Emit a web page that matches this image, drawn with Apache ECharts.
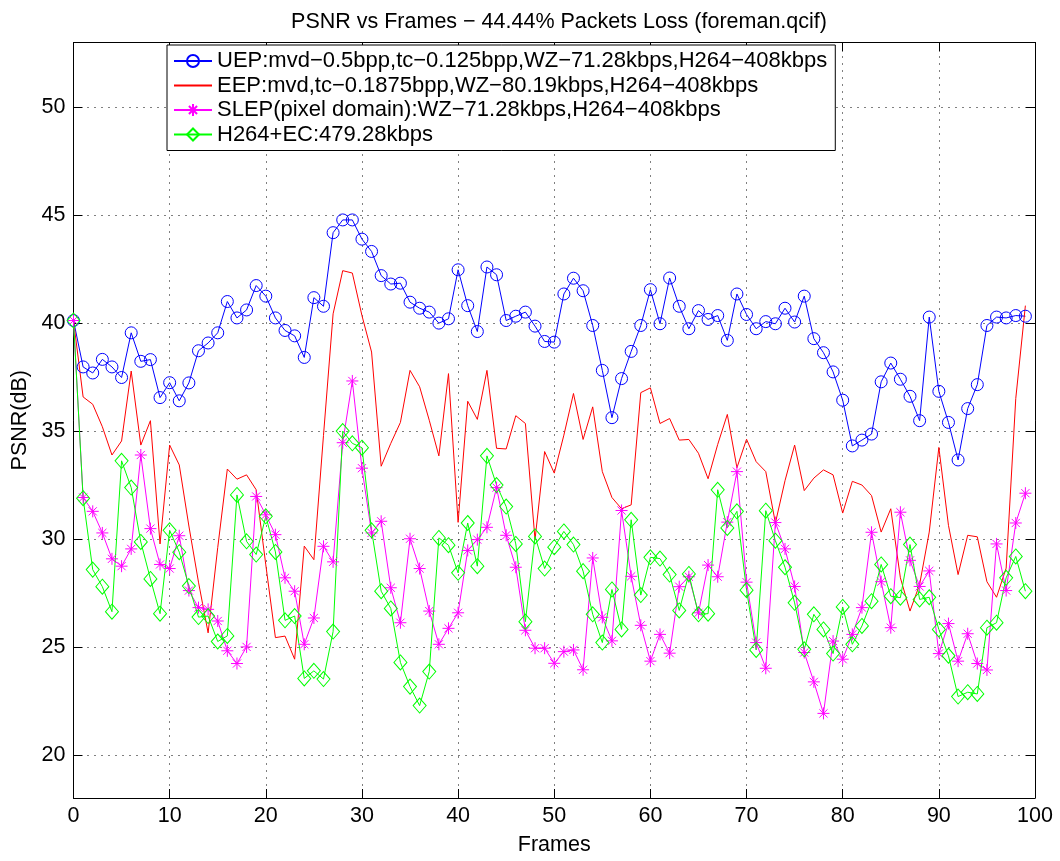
<!DOCTYPE html>
<html>
<head>
<meta charset="utf-8">
<script src="https://cdn.jsdelivr.net/npm/echarts@6/dist/echarts.min.js"></script>
<style>html,body{margin:0;padding:0;background:#fff;}#c{width:1060px;height:861px;}</style>
</head>
<body>
<div id="c"></div>
<script>
const titleText = 'PSNR vs Frames \u2212 44.44% Packets Loss (foreman.qcif)';
const seriesNames = [
  'UEP:mvd\u22120.5bpp,tc\u22120.125bpp,WZ\u221271.28kbps,H264\u2212408kbps',
  'EEP:mvd,tc\u22120.1875bpp,WZ\u221280.19kbps,H264\u2212408kbps',
  'SLEP(pixel domain):WZ\u221271.28kbps,H264\u2212408kbps',
  'H264+EC:479.28kbps'
];
const xTicks = [0,10,20,30,40,50,60,70,80,90,100];
const yTicks = [20,25,30,35,40,45,50];
const frames = Array.from({length:100}, (_, i) => i);

const uep = [40.12,37.97,37.69,38.32,37.97,37.48,39.55,38.23,38.31,36.55,
  37.24,36.40,37.23,38.72,39.08,39.55,41.00,40.24,40.61,41.74,
  41.25,40.24,39.66,39.41,38.41,41.18,40.78,44.19,44.78,44.78,
  43.89,43.32,42.20,41.81,41.85,40.97,40.69,40.51,40.00,40.20,
  42.47,40.81,39.61,42.60,42.24,40.12,40.32,40.51,39.86,39.15,
  39.12,41.35,42.08,41.50,39.89,37.81,35.62,37.43,38.69,39.89,
  41.55,39.97,42.09,40.78,39.74,40.58,40.17,40.35,39.20,41.35,
  40.40,39.74,40.07,39.97,40.69,40.05,41.25,39.28,38.63,37.74,
  36.43,34.31,34.58,34.86,37.28,38.15,37.40,36.61,35.48,40.28,
  36.84,35.40,33.66,36.04,37.15,39.89,40.28,40.24,40.35,40.32];

const eep = [40.12,36.58,36.24,35.20,33.89,34.54,37.78,34.35,35.48,29.77,
  34.35,33.43,30.60,28.00,25.65,29.60,33.24,32.77,32.97,32.28,
  28.80,25.43,25.50,24.43,29.67,29.04,34.80,40.43,42.43,42.32,
  40.35,38.66,33.37,34.43,35.40,37.81,37.05,35.50,33.85,37.66,
  30.77,36.38,35.54,37.81,34.20,34.17,35.71,35.35,29.97,34.05,
  33.05,34.81,36.74,34.61,36.12,33.12,31.92,31.40,31.58,36.78,
  37.00,35.35,35.58,34.58,34.61,33.97,32.79,34.38,35.77,33.30,
  34.62,33.58,33.12,30.74,32.70,34.35,32.24,32.82,33.20,32.97,
  31.20,32.67,32.50,32.01,30.32,31.40,28.20,26.66,27.89,30.32,
  34.24,30.63,28.35,30.17,30.10,28.02,27.30,28.65,36.51,40.81];

const slep = [40.12,31.92,31.28,30.28,29.08,28.74,29.54,33.89,30.48,28.82,
  28.63,30.15,27.61,26.82,26.74,26.20,24.82,24.23,25.00,31.97,
  31.12,30.20,28.20,27.58,25.12,26.34,29.66,28.94,34.46,37.32,
  33.28,30.28,30.82,27.74,26.12,30.01,28.63,26.66,25.12,25.86,
  26.58,29.47,29.97,30.54,32.38,30.17,28.69,25.77,24.94,24.94,
  24.24,24.78,24.86,23.94,29.12,26.37,25.28,31.32,28.27,26.00,
  24.34,25.58,24.71,27.79,28.25,26.58,28.79,28.25,30.78,33.12,
  28.00,25.20,24.01,30.76,29.54,27.80,24.74,23.38,21.92,25.27,
  24.43,25.58,26.82,30.31,28.02,25.89,31.24,29.01,27.80,28.52,
  24.69,26.08,24.34,25.61,24.23,23.93,29.77,27.61,30.74,32.12];

const h264 = [40.12,31.89,28.58,27.79,26.63,33.62,32.38,29.86,28.15,26.54,
  30.40,29.39,27.82,26.38,26.43,25.25,25.51,32.04,29.89,29.28,
  31.05,29.40,26.23,26.43,23.54,23.89,23.51,25.71,35.00,34.43,
  34.23,30.40,27.58,26.78,24.28,23.16,22.28,23.86,30.05,29.71,
  28.43,30.74,28.74,33.85,32.50,31.50,29.77,26.17,30.12,28.63,
  29.62,30.35,29.74,28.51,26.51,25.20,27.66,25.81,30.89,27.40,
  29.15,29.09,28.35,26.69,28.38,26.51,26.54,32.28,30.51,31.28,
  27.63,24.86,31.31,29.92,28.69,27.04,24.89,26.51,25.81,24.69,
  26.85,25.12,25.97,27.12,28.82,27.35,27.28,29.74,27.20,27.30,
  25.81,24.59,22.70,22.90,22.82,25.89,26.12,28.20,29.19,27.58];

const FONT = '"Liberation Sans", Arial, Helvetica, sans-serif';
const FS = 21.5;
const asterisk = 'path://M5 0L5 10M0 5L10 5M1.6 1.6L8.4 8.4M1.6 8.4L8.4 1.6';

function pairs(arr) { return arr.map((v, i) => [frames[i], v]); }

function mkSeries(name, data, color, symbol, size, markerVisible) {
  return {
    name: name, type: 'line', data: pairs(data),
    symbol: symbol, symbolSize: size, showSymbol: symbol !== 'none',
    lineStyle: { color: color, width: 1 },
    itemStyle: markerVisible
      ? { color: 'rgba(0,0,0,0)', borderColor: color, borderWidth: 1 }
      : { color: 'rgba(0,0,0,0)', borderColor: 'rgba(0,0,0,0)', borderWidth: 0 },
    emphasis: { disabled: true },
    animation: false
  };
}

const axisCommon = {
  axisLine: { show: true, onZero: false, lineStyle: { color: '#000', width: 1 } },
  axisTick: { show: true, inside: true, length: 9, lineStyle: { color: '#000', width: 1 } }
};

const chart = echarts.init(document.getElementById('c'), null, { renderer: 'canvas' });
chart.setOption({
  backgroundColor: '#fff',
  animation: false,
  textStyle: { fontFamily: FONT, color: '#000' },
  title: {
    text: titleText, left: 554, textAlign: 'center', top: 6,
    textStyle: { fontFamily: FONT, fontSize: FS, fontWeight: 'normal', color: '#000' }
  },
  grid: { left: 73.5, right: 25, top: 42.5, bottom: 60, containLabel: false },
  legend: {
    orient: 'vertical', left: 167, top: 45,
    data: seriesNames,
    backgroundColor: '#fff', borderColor: '#000', borderWidth: 1,
    padding: [5, 8, 5, 6], itemGap: 2.5, itemWidth: 38, itemHeight: 15,
    textStyle: { fontFamily: FONT, fontSize: 22, color: '#000', lineHeight: 22 }
  },
  xAxis: [
    Object.assign({
      type: 'value', min: xTicks[0], max: xTicks[xTicks.length - 1], interval: 10, position: 'bottom',
      axisLabel: { color: '#000', fontSize: FS, fontFamily: FONT, margin: 7 },
      splitLine: { show: true, lineStyle: { color: '#000', width: 1, type: [1, 6] } },
      name: 'Frames', nameLocation: 'middle', nameGap: 36,
      nameTextStyle: { fontSize: FS, fontFamily: FONT, color: '#000' }
    }, axisCommon),
    Object.assign({
      type: 'value', min: xTicks[0], max: xTicks[xTicks.length - 1], interval: 10, position: 'top',
      axisLabel: { show: false }, splitLine: { show: false }
    }, axisCommon)
  ],
  yAxis: [
    Object.assign({
      type: 'value', min: 18, max: 53, splitNumber: 7, position: 'left',
      axisLabel: {
        color: '#000', fontSize: FS, fontFamily: FONT, margin: 8,
        showMinLabel: false, showMaxLabel: false,
        formatter: v => (yTicks.indexOf(v) >= 0 ? String(v) : '')
      },
      splitLine: { show: true, lineStyle: { color: '#000', width: 1, type: [1, 6] } },
      name: 'PSNR(dB)', nameLocation: 'middle', nameGap: 40,
      nameTextStyle: { fontSize: FS, fontFamily: FONT, color: '#000' }
    }, axisCommon),
    Object.assign({
      type: 'value', min: 18, max: 53, splitNumber: 7, position: 'right',
      axisLabel: { show: false }, splitLine: { show: false }
    }, axisCommon)
  ],
  series: [
    mkSeries(seriesNames[0], uep, '#0000FF', 'circle', 12, true),
    mkSeries(seriesNames[1], eep, '#FF0000', 'none', 1, false),
    mkSeries(seriesNames[2], slep, '#FF00FF', asterisk, 12, true),
    mkSeries(seriesNames[3], h264, '#00FF00', 'diamond', [13, 15], true)
  ]
});
</script>
</body>
</html>
